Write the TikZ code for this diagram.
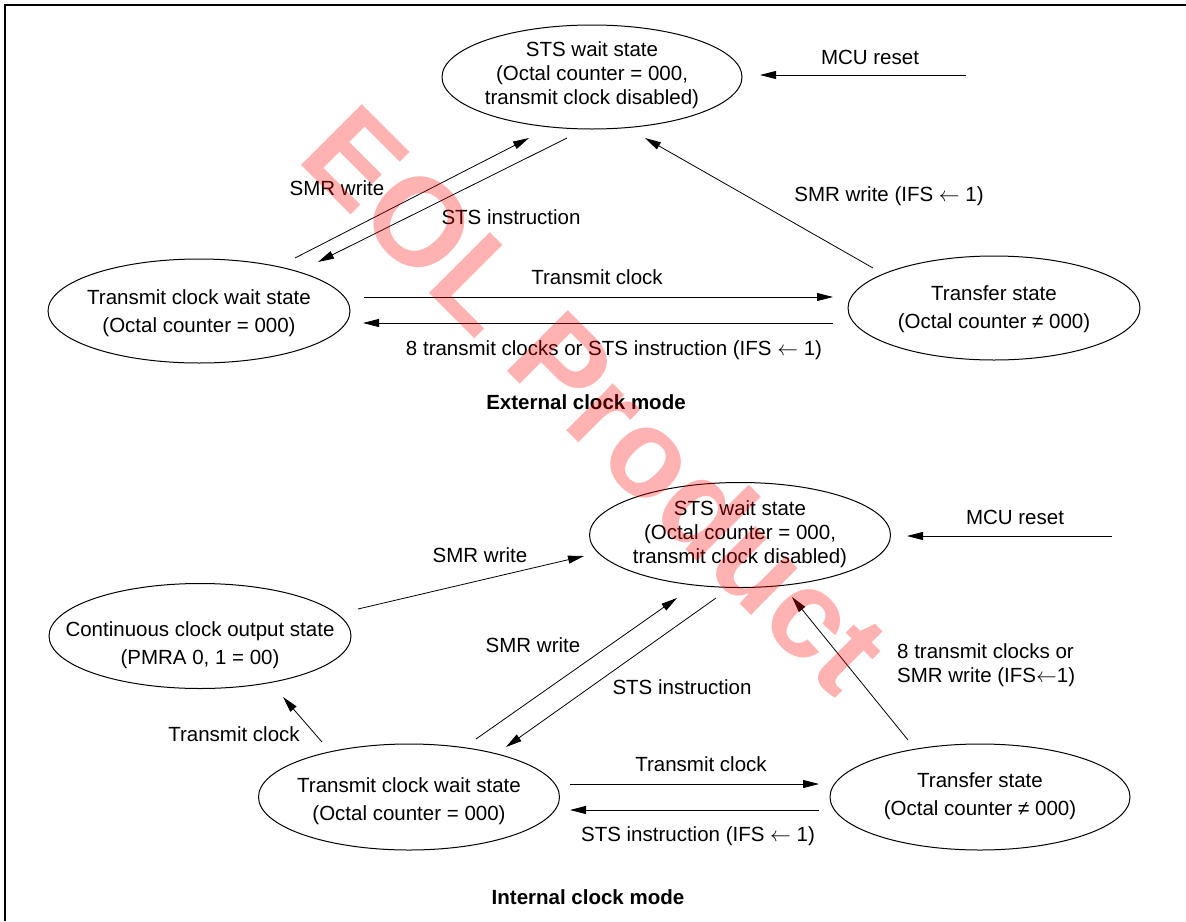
\documentclass[tikz,border=0pt]{standalone}
\usepackage{fontspec}
\setmainfont{Liberation Sans}
\usetikzlibrary{arrows.meta,shapes.geometric}
\begin{document}
\begin{tikzpicture}[x=1pt,y=-1pt,
  state/.style={draw, ellipse, line width=1pt, inner sep=0pt},
  txt/.style={align=center, inner sep=0pt, font=\fontsize{20.5}{23.7}\selectfont},
  txtw/.style={align=center, inner sep=0pt, font=\fontsize{20.5}{28}\selectfont},
  lbl/.style={inner sep=0pt, font=\fontsize{20.5}{24}\selectfont},
  ttl/.style={inner sep=0pt, font=\fontsize{20.5}{24}\selectfont\bfseries},
  arr/.style={-{Triangle[length=16pt,width=8pt]}, line width=0.8pt}]
\useasboundingbox (0,0) rectangle (1186,921);
% frame
\draw[line width=1.3pt] (5,921) -- (5,5) -- (1186,5);

% ===== External clock mode =====
\node[state, minimum width=300, minimum height=104] (sts1) at (592,77) {};
\node[txt] (sts1t) at (592,75) {STS wait state\\(Octal counter = 000,\\transmit clock disabled)};
\node[state, minimum width=302, minimum height=104] (tw1) at (199,311) {};
\node[txtw] (tw1t) at (199,313) {Transmit clock wait state\\(Octal counter = 000)};
\node[state, minimum width=292, minimum height=104] (tr1) at (994,308) {};
\node[txtw] (tr1t) at (994,309) {Transfer state\\(Octal counter ≠ 000)};

\coordinate (r1s) at (966,75);
\coordinate (r1e) at (760,75);
\draw[arr] (r1s) -- (r1e);
\node[lbl] (r1l) at (870,57) {MCU reset};

\coordinate (a1s) at (295,258);
\coordinate (a1e) at (529,138);
\draw[arr] (a1s) -- (a1e);
\node[lbl] (a1l) at (337,188) {SMR write};

\coordinate (b1s) at (567,138);
\coordinate (b1e) at (318,262);
\draw[arr] (b1s) -- (b1e);
\node[lbl] (b1l) at (511,217) {STS instruction};

\coordinate (c1s) at (873,268);
\coordinate (c1e) at (645,138);
\draw[arr] (c1s) -- (c1e);
\node[lbl] (c1l) at (889,196) {SMR write (IFS $\leftarrow$ 1)};

\coordinate (d1s) at (364,297);
\coordinate (d1e) at (833,297);
\draw[arr] (d1s) -- (d1e);
\node[lbl] (d1l) at (597,277) {Transmit clock};

\coordinate (e1s) at (833,323);
\coordinate (e1e) at (363,323);
\draw[arr] (e1s) -- (e1e);
\node[lbl] (e1l) at (614,350) {8 transmit clocks or STS instruction (IFS $\leftarrow$ 1)};

\node[ttl] (t1) at (586,402) {External clock mode};

% ===== Internal clock mode =====
\node[state, minimum width=301, minimum height=105] (sts2) at (740,535) {};
\node[txt] (sts2t) at (740,534) {STS wait state\\(Octal counter = 000,\\transmit clock disabled)};
\node[state, minimum width=302, minimum height=105] (cc) at (200,636) {};
\node[txtw] (cct) at (200,645) {Continuous clock output state\\(PMRA 0, 1 = 00)};
\node[state, minimum width=301, minimum height=106] (tw2) at (409,797) {};
\node[txtw] (tw2t) at (409,801) {Transmit clock wait state\\(Octal counter = 000)};
\node[state, minimum width=300, minimum height=106] (tr2) at (980,797) {};
\node[txtw] (tr2t) at (980,796) {Transfer state\\(Octal counter ≠ 000)};

\coordinate (r2s) at (1112,536);
\coordinate (r2e) at (907,536);
\draw[arr] (r2s) -- (r2e);
\node[lbl] (r2l) at (1015,517) {MCU reset};

\coordinate (f2s) at (358,609);
\coordinate (f2e) at (584,556);
\draw[arr] (f2s) -- (f2e);
\node[lbl] (f2l) at (480,555) {SMR write};

\coordinate (g2s) at (322,742);
\coordinate (g2e) at (283,697);
\draw[arr] (g2s) -- (g2e);
\node[lbl] (g2l) at (234,734) {Transmit clock};

\coordinate (a2s) at (476,739);
\coordinate (a2e) at (677,598);
\draw[arr] (a2s) -- (a2e);
\node[lbl] (a2l) at (533,645) {SMR write};

\coordinate (b2s) at (716,598);
\coordinate (b2e) at (506,747);
\draw[arr] (b2s) -- (b2e);
\node[lbl] (b2l) at (682,687) {STS instruction};

\coordinate (c2s) at (908,740);
\coordinate (c2e) at (792,597);
\draw[arr] (c2s) -- (c2e);
\node[lbl, anchor=west, align=left] (c2l) at (897,665) {8 transmit clocks or\\SMR write (IFS$\leftarrow$1)};

\coordinate (d2s) at (570,784);
\coordinate (d2e) at (819,784);
\draw[arr] (d2s) -- (d2e);
\node[lbl] (d2l) at (701,764) {Transmit clock};

\coordinate (e2s) at (819,810);
\coordinate (e2e) at (570,810);
\draw[arr] (e2s) -- (e2e);
\node[lbl] (e2l) at (698,836) {STS instruction (IFS $\leftarrow$ 1)};

\node[ttl] (t2) at (588,897) {Internal clock mode};

% watermark
\node[anchor=base west, rotate=-45, inner sep=0pt, text=red, text opacity=0.3,
      font=\fontsize{125}{125}\bfseries\selectfont] (wm) at (295.6,159.6) {EOL Product};
\end{tikzpicture}
\end{document}
